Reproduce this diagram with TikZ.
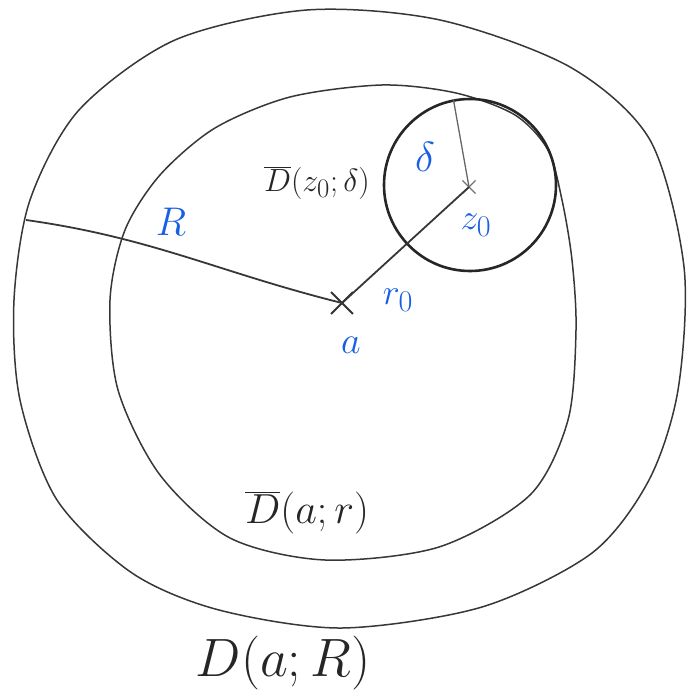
\documentclass[tikz,border=0pt]{standalone}
\usepackage{xcolor}
\usepackage{tikz}
\usetikzlibrary{shapes.misc,calc}
\definecolor{penblue}{RGB}{25,95,225}
\definecolor{pencil}{RGB}{55,55,55}
\tikzset{
  rim/.style={draw=pencil, line width=1.5pt},
  smalldisk/.style={circle, draw=black!85, line width=2.6pt, minimum size=172pt, inner sep=0pt},
  ptcross/.style={cross out, draw=black!80, line width=1.8pt, minimum size=#1, inner sep=0pt},
  radline/.style={draw=pencil, line width=1.8pt},
  bluelbl/.style={text=penblue, inner sep=0pt, font=\Huge, scale=#1},
  dname/.style={text=black!85, inner sep=0pt, font=\Huge, scale=#1}
}

\begin{document}
\begin{tikzpicture}[x=1pt, y=-1pt]
\useasboundingbox (0,0) rectangle (688,695);
% D(a;R)
\draw[rim] plot[smooth cycle] coordinates {(307,10) (440,20) (570,67) (650,140) (684,267) (678,390) (649,480) (592,553) (482,607) (342,628) (219,610) (132,573) (57,500) (20,400) (14,300) (30,200) (79,110) (175,40)};
% closed disc D(a;r)
\draw[rim] plot[smooth cycle] coordinates {(382,85) (456,93) (515,115) (548,150) (562,200) (572,260) (576,330) (568,420) (530,495) (439,547) (325,560) (230,538) (160,475) (118,390) (110,300) (125,230) (160,175) (215,128) (290,97)};
\node[smalldisk] (dz) at (470,185) {};
\node[ptcross=20pt] (a) at (342,303) {};
\node[ptcross=12pt, draw=black!55, line width=1.2pt] (z0) at (469,187) {};
\coordinate (Rend) at (26,220);
\draw[radline] (Rend) to[out=-8, in=166] (a.center);
\draw[radline] (a.center) -- (z0.center);
\draw[radline, draw=black!60, line width=1.3pt] (dz.101) -- (z0.center);
% labels
\node[bluelbl=1.61] (lR) at (171,222) {$R$};
\node[bluelbl=1.69] (ldelta) at (425,157) {$\delta$};
\node[bluelbl=1.45] (lz0) at (476,225) {$z_0$};
\node[bluelbl=1.45] (lr0) at (398,300) {$r_0$};
\node[bluelbl=1.53] (la) at (351,345) {$a$};
\node[dname=1.29] (ldz) at (317,183) {$\overline{D}(z_0;\delta)$};
\node[dname=1.69] (ldr) at (307,513) {$\overline{D}(a;r)$};
\node[dname=2.17] (ldR) at (283,663) {$D(a;R)$};
\end{tikzpicture}
\end{document}
